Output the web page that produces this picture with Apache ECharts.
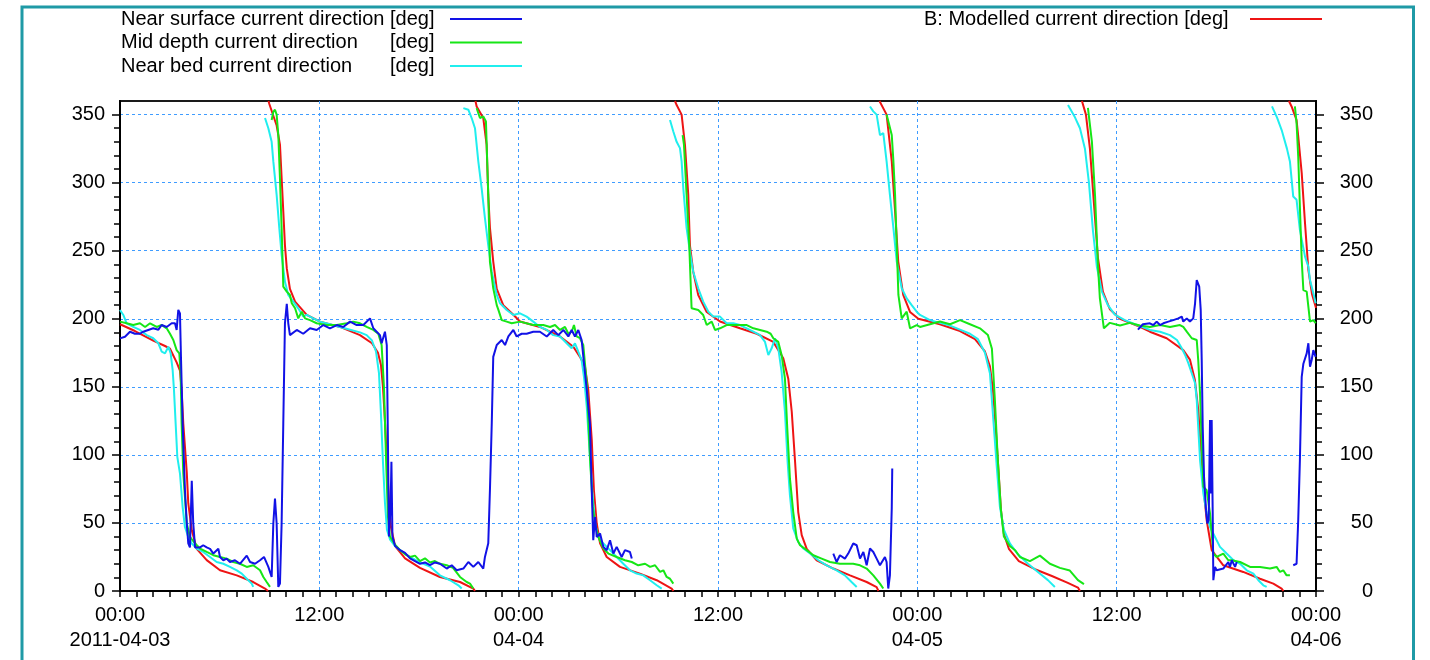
<!DOCTYPE html>
<html>
<head>
<meta charset="utf-8">
<script src="https://cdn.jsdelivr.net/npm/echarts@6/dist/echarts.min.js"></script>
<style>
  html, body { margin: 0; padding: 0; background: #ffffff; }
  #chart { width: 1430px; height: 660px; }
</style>
</head>
<body>
<div id="chart"></div>
<script>
// x values are hours after 2011-04-03 00:00; y values are directions in degrees.
// A null entry ends a line segment (direction wrap-around or missing record).
const xTickLabels = ['00:00\n2011-04-03', '12:00', '00:00\n04-04', '12:00', '00:00\n04-05', '12:00', '00:00\n04-06'];
const yTickLabels = [0, 50, 100, 150, 200, 250, 300, 350];

const seriesNames = [
  'Near surface current direction',
  'Mid depth current direction',
  'Near bed current direction',
  'B: Modelled current direction'
];

const nearSurface = [
  [0, 185.6], [0.30, 186.8], [0.60, 190.5], [0.90, 189], [1.20, 189], [1.40, 190.5], [1.70, 191.8], [2.00, 193],
  [2.31, 192], [2.51, 195.4], [2.81, 194], [3.11, 196.7], [3.31, 196.7], [3.41, 191.8], [3.51, 206.5], [3.61, 204],
  [3.67, 172], [3.77, 123], [3.91, 74], [4.02, 49.6], [4.11, 35], [4.21, 32], [4.32, 81], [4.41, 49.6], [4.52, 32],
  [4.82, 32], [5.01, 33.6], [5.22, 32], [5.42, 31], [5.62, 27.5], [5.92, 31], [6.02, 25], [6.22, 22.6], [6.42, 23.8],
  [6.62, 21.3], [6.92, 22.6], [7.22, 20], [7.63, 26], [7.83, 21.3], [8.13, 20], [8.43, 22.6], [8.67, 25], [8.93, 17.7],
  [9.13, 10.3], [9.23, 49.6], [9.33, 68], [9.43, 49.6], [9.53, 3], [9.63, 5.4], [9.73, 49.6], [9.83, 123], [9.93, 196.7],
  [10.04, 211], [10.13, 196.7], [10.23, 188], [10.64, 191.8], [11.03, 189], [11.44, 193], [11.84, 191.8], [12.24, 195.4],
  [12.64, 193], [13.05, 195.4], [13.44, 194], [13.85, 197.9], [14.25, 195.4], [14.65, 195.4], [15.05, 200.3], [15.25, 193],
  [15.45, 190.5], [15.65, 188], [15.75, 182], [15.95, 190.5], [16.06, 180.7], [16.13, 110], [16.19, 40], [16.29, 62],
  [16.34, 95], [16.40, 40], [16.56, 33], [16.86, 30], [17.16, 28], [17.46, 24], [17.76, 22], [18.06, 20], [18.36, 21],
  [18.66, 19], [18.96, 21], [19.26, 20], [19.67, 16.5], [19.97, 18.9], [20.27, 15.2], [20.67, 16.5], [20.97, 21.3],
  [21.27, 17.7], [21.57, 21.3], [21.87, 16.5], [21.97, 25], [22.17, 35], [22.27, 74], [22.38, 123], [22.47, 172],
  [22.68, 180.7], [22.98, 184.4], [23.18, 180.7], [23.38, 187], [23.68, 191.8], [23.88, 187], [24.18, 189], [24.48, 189],
  [24.88, 190.5], [25.28, 190.5], [25.69, 187], [26.08, 191.8], [26.39, 188], [26.69, 191.8], [26.99, 187], [27.19, 191.8],
  [27.39, 187], [27.59, 191.8], [27.79, 184.4], [27.89, 183], [28.10, 147.6], [28.29, 123], [28.40, 74], [28.49, 37.3],
  [28.60, 54.4], [28.70, 39.7], [28.90, 42.2], [29.10, 32.4], [29.30, 30], [29.50, 37.3], [29.70, 27.5], [29.90, 32.4],
  [30.20, 25], [30.40, 30], [30.70, 28.7], [30.81, 23.8],
  null,
  [42.94, 27.5], [43.14, 21.3], [43.34, 26.3], [43.64, 23.8], [43.84, 27.5], [44.14, 34.9], [44.35, 33.6], [44.55, 23.8],
  [44.75, 28.7], [44.95, 18.9], [45.15, 31.2], [45.35, 28.7], [45.55, 23.8], [45.75, 18.9], [46.05, 25], [46.15, 21.3],
  [46.25, 1.8], [46.35, 11.5], [46.46, 60.6], [46.49, 90],
  null,
  [61.28, 192], [61.58, 196], [62.00, 196.7], [62.21, 195.4], [62.41, 197.9], [62.61, 195.4], [62.81, 196.7], [63.11, 197.9],
  [63.41, 199], [63.71, 200.3], [63.92, 201.6], [64.01, 197.9], [64.22, 200.3], [64.41, 197.9], [64.61, 200.3], [64.72, 211.4],
  [64.82, 228.5], [64.97, 223.6], [65.06, 206.5], [65.12, 169.7], [65.18, 120.6], [65.26, 83.9], [65.38, 59.4], [65.46, 49.6],
  [65.54, 52], [65.62, 125.6], [65.68, 71.6], [65.72, 125.6], [65.78, 59.4], [65.82, 7.9], [65.92, 17.7], [66.02, 15.2],
  [66.42, 16.5], [66.72, 21.3], [66.82, 17.7], [66.93, 22.6], [67.13, 17.7], [67.23, 21.3],
  null,
  [70.63, 18.9], [70.83, 20], [70.93, 52], [71.03, 96], [71.14, 157.4], [71.24, 167], [71.44, 174.6], [71.54, 182],
  [71.64, 164.8], [71.74, 169.7], [71.84, 177], [71.98, 172]
];

const midDepth = [
  [0, 197.9], [0.40, 196.7], [0.80, 195.4], [1.20, 196.7], [1.51, 194], [1.81, 196.7], [2.21, 194], [2.51, 195.4],
  [2.81, 193], [3.01, 189], [3.21, 184.4], [3.41, 177], [3.57, 174.6], [3.65, 160], [3.71, 123], [3.81, 86.3],
  [4.02, 49.6], [4.21, 39.7], [4.52, 34.9], [4.82, 31.2], [5.22, 28.7], [5.62, 26.3], [6.02, 25], [6.42, 23.8],
  [6.82, 21.3], [7.22, 20], [7.63, 17.7], [8.02, 18.9], [8.43, 15.2], [8.63, 10.3], [8.83, 6.6], [9.03, 3],
  null,
  [9.13, 346], [9.23, 352], [9.33, 353.6], [9.43, 350], [9.53, 335], [9.63, 303], [9.73, 266.6], [9.79, 242],
  [9.83, 223.6], [10.04, 220], [10.23, 217.5], [10.34, 211.4], [10.54, 207.7], [10.73, 200.3], [10.94, 205.2],
  [11.14, 200.3], [11.44, 199], [11.84, 196.7], [12.44, 195.4], [13.05, 195.4], [13.65, 196.7], [14.04, 197.9],
  [14.45, 196.7], [14.85, 194], [15.25, 191.8], [15.55, 189], [15.75, 180.7], [15.89, 150], [16.01, 100], [16.13, 55],
  [16.25, 40], [16.56, 34], [16.86, 30], [17.16, 27], [17.46, 25], [17.76, 26], [18.06, 22], [18.36, 24], [18.66, 21],
  [18.96, 22], [19.26, 20], [19.67, 18.9], [20.05, 17], [20.47, 10.3], [20.87, 6.6], [21.07, 5.4], [21.27, 1.8],
  null,
  [21.47, 354.8], [21.67, 347.5], [21.87, 348.7], [22.03, 345], [22.17, 291], [22.27, 242], [22.47, 222.4], [22.68, 210],
  [22.78, 206.5], [22.98, 199], [23.28, 197.9], [23.58, 196.7], [24.08, 197.9], [24.88, 195.4], [25.48, 195.4], [25.89, 194],
  [26.19, 195.4], [26.49, 191.8], [26.79, 194], [26.99, 189], [27.19, 190.5], [27.33, 195.4], [27.49, 187], [27.69, 185.7],
  [27.89, 180.7], [28.10, 152.6], [28.29, 98.6], [28.46, 61.8], [28.60, 49.6], [28.79, 39.7], [29.10, 31.2], [29.40, 27.5],
  [29.90, 25], [30.40, 22.6], [30.81, 21.3], [31.20, 18.9], [31.61, 20], [31.91, 17.7], [32.21, 18.9], [32.51, 14],
  [32.71, 15.2], [32.91, 10.3], [33.11, 9], [33.31, 5.4],
  null,
  [33.87, 335], [33.95, 328], [34.11, 291], [34.27, 254], [34.41, 207.7], [34.81, 206.5], [35.11, 202.8], [35.32, 195.4],
  [35.62, 197.9], [35.82, 191.8], [36.12, 193], [36.52, 195.4], [36.92, 195.4], [37.32, 195.4], [37.73, 195.4], [38.13, 193],
  [38.53, 191.8], [38.93, 190.5], [39.17, 189], [39.33, 185.7], [39.63, 183], [39.83, 173.4], [40.03, 156], [40.17, 119.5],
  [40.33, 82.7], [40.53, 58], [40.74, 38.5], [40.94, 33.6], [41.34, 30], [41.74, 26.3], [42.24, 23.8], [42.74, 21.3],
  [43.34, 20], [44.14, 20], [44.55, 18.9], [44.95, 16.5], [45.35, 11.5], [45.75, 5.4], [45.95, 1.8],
  null,
  [46.15, 350], [46.46, 335], [46.56, 315.6], [46.66, 291], [46.76, 254], [46.86, 217.5], [47.06, 200.3], [47.36, 205.2],
  [47.56, 193], [47.96, 195.4], [48.16, 194], [48.76, 196], [49.36, 198], [49.97, 196], [50.57, 199], [51.17, 196],
  [51.77, 193], [52.25, 188], [52.49, 178], [52.67, 140], [52.85, 95], [53.03, 60], [53.21, 40], [53.57, 33], [53.88, 30],
  [54.18, 25], [54.78, 22], [55.38, 26], [55.98, 20], [56.58, 17], [57.18, 15], [57.67, 8], [58.03, 5],
  null,
  [58.27, 355], [58.51, 330], [58.70, 290], [58.87, 240], [58.99, 215], [59.23, 193], [59.59, 197], [60.20, 195],
  [60.80, 197], [61.40, 195], [62.00, 194], [62.61, 195.4], [63.21, 194], [63.81, 195.4], [64.01, 194], [64.22, 190.5],
  [64.52, 185.7], [64.82, 184.4], [64.91, 169.7], [65.02, 145], [65.12, 108.4], [65.22, 76.5], [65.42, 74], [65.62, 57],
  [65.82, 27.5], [66.02, 25], [66.42, 27.5], [66.72, 22.6], [66.93, 22.6], [67.43, 21.3], [68.03, 17.7], [68.63, 17.7],
  [69.23, 16.5], [69.63, 17.7], [69.83, 14], [70.03, 15.2], [70.23, 11.5], [70.43, 11.5],
  null,
  [70.73, 356], [70.83, 343.8], [70.93, 319], [71.03, 282.5], [71.14, 243], [71.24, 221], [71.44, 220], [71.64, 197.9],
  [71.84, 199], [71.98, 196.7]
];

const nearBed = [
  [0, 206.5], [0.20, 202.8], [0.40, 196.7], [0.80, 194], [1.20, 191.8], [1.61, 188], [2.00, 185.7], [2.31, 182],
  [2.51, 175.8], [2.71, 174.6], [2.91, 179.5], [3.05, 174.6], [3.17, 162.3], [3.25, 147.6], [3.35, 123], [3.45, 98.6],
  [3.61, 86.3], [3.77, 61.8], [3.91, 47], [4.11, 39.7], [4.32, 34.9], [4.62, 31.2], [5.01, 28.7], [5.42, 25], [5.82, 21.3],
  [6.22, 20], [6.62, 17.7], [7.03, 15.2], [7.33, 12.8], [7.63, 9], [7.93, 5.4], [8.02, 3],
  null,
  [8.73, 347.5], [8.93, 340], [9.13, 330], [9.23, 315.6], [9.43, 291], [9.59, 266.6], [9.73, 247], [9.93, 227.3],
  [10.13, 217.5], [10.43, 212.6], [10.73, 207.7], [11.03, 201.6], [11.24, 202.8], [11.64, 200.3], [12.04, 197.9],
  [12.64, 196], [13.24, 194], [13.85, 192], [14.45, 190], [14.85, 188], [15.17, 184], [15.41, 176], [15.59, 160],
  [15.71, 130], [15.83, 95], [15.95, 65], [16.07, 45], [16.25, 38], [16.56, 33], [16.86, 30], [17.46, 25], [18.06, 21],
  [18.66, 18], [19.26, 11.5], [19.87, 7.9], [20.37, 4.2], [20.57, 1.8],
  null,
  [20.67, 354.8], [20.97, 353.6], [21.17, 347.5], [21.37, 340], [21.57, 315.6], [21.77, 296], [21.97, 274], [22.17, 254],
  [22.38, 234.6], [22.68, 217.5], [22.88, 211.4], [23.28, 206.5], [23.68, 202.8], [24.08, 204], [24.48, 201.6],
  [24.88, 197.9], [25.28, 194], [25.69, 191.8], [26.08, 188], [26.49, 187], [26.89, 182], [27.19, 178.3], [27.39, 182],
  [27.59, 175.8], [27.79, 169.7], [27.93, 157.4], [28.10, 135.3], [28.29, 98.6], [28.46, 69], [28.60, 49.6], [28.79, 39.7],
  [29.10, 34.9], [29.50, 30], [29.90, 25], [30.30, 20], [30.70, 15.2], [31.10, 12.8], [31.50, 11.5], [31.91, 7.9],
  [32.31, 4.2], [32.61, 1.8],
  null,
  [33.11, 346], [33.31, 337.6], [33.51, 330], [33.71, 325.4], [33.81, 315.6], [33.91, 296], [34.11, 266.6], [34.31, 249.4],
  [34.51, 234.6], [34.81, 222.4], [35.11, 212.6], [35.42, 205.2], [35.72, 201.6], [36.12, 201.6], [36.52, 196.7],
  [36.92, 196.7], [37.32, 195.4], [37.73, 193], [38.13, 190.5], [38.53, 188], [38.83, 183], [39.03, 173.4], [39.23, 178.3],
  [39.43, 185.7], [39.63, 178.3], [39.83, 161], [40.03, 131.7], [40.19, 95], [40.33, 70.4], [40.53, 46], [40.83, 36],
  [41.14, 31.2], [41.54, 27.5], [42.04, 22.6], [42.54, 18.9], [43.14, 15.2], [43.64, 11.5], [44.04, 6.6], [44.35, 3],
  null,
  [45.15, 356], [45.35, 352.4], [45.55, 350], [45.75, 335], [45.95, 336.4], [46.15, 315.6], [46.35, 291], [46.56, 266.6],
  [46.76, 242], [47.06, 222.4], [47.36, 215], [47.66, 210], [47.96, 205.2], [48.16, 202.8], [48.76, 199], [49.36, 197],
  [49.97, 195], [50.57, 192], [51.17, 189], [51.65, 185], [52.07, 175], [52.37, 160], [52.61, 120], [52.79, 90],
  [52.97, 62], [53.21, 45], [53.57, 35], [54.05, 27], [54.66, 20], [55.26, 14], [55.86, 8], [56.28, 3],
  null,
  [57.07, 357], [57.49, 348], [57.79, 340], [58.09, 325], [58.33, 300], [58.57, 265], [58.81, 238], [59.11, 220],
  [59.47, 210], [59.89, 203], [60.49, 199], [61.10, 196], [62.00, 191.8], [62.61, 190.5], [63.21, 188], [63.63, 184.4],
  [63.92, 178.3], [64.12, 173.4], [64.32, 167.2], [64.52, 160], [64.72, 152.6], [64.82, 140.3], [64.91, 120.6],
  [65.02, 96], [65.22, 71.6], [65.42, 57], [65.62, 47], [65.92, 39.7], [66.22, 32.4], [66.62, 27.5], [67.03, 22.6],
  [67.43, 20], [67.83, 15.2], [68.23, 12.8], [68.53, 7.9], [68.83, 4.2], [69.03, 3],
  null,
  [69.35, 356], [69.65, 348], [69.95, 338], [70.25, 325], [70.43, 315.6], [70.63, 289.8], [70.83, 287.4], [71.03, 265.3],
  [71.34, 245.7], [71.54, 238.3], [71.64, 228.5], [71.84, 218.8], [71.98, 211.4]
];

const modelled = [
  [0, 196], [0.90, 191], [2.00, 184], [2.71, 180], [3.01, 178], [3.41, 168], [3.61, 162], [3.71, 148], [3.81, 123],
  [4.02, 87], [4.11, 64.5], [4.32, 44.6], [4.62, 31], [5.22, 22.7], [6.02, 15.2], [7.03, 11.5], [8.02, 6.6],
  [8.73, 1.8], [8.91, 0],
  null,
  [8.94, 360], [8.99, 357.8], [9.43, 342], [9.63, 328], [9.73, 303.6], [9.83, 279], [9.93, 254], [10.04, 237],
  [10.23, 222], [10.54, 212.6], [11.24, 202.8], [12.04, 197.9], [13.24, 194], [14.45, 188], [15.17, 182], [15.53, 175],
  [15.71, 166], [15.83, 150], [15.95, 125], [16.07, 95], [16.19, 66], [16.31, 47], [16.56, 33], [17.16, 24], [18.06, 17],
  [19.26, 10.3], [20.47, 6.6], [21.27, 1.8], [21.37, 0],
  null,
  [21.40, 360], [21.47, 356], [21.87, 347.5], [22.07, 328], [22.17, 291], [22.27, 267], [22.47, 242], [22.68, 222],
  [23.07, 210], [23.68, 203], [24.08, 198], [25.28, 194], [26.49, 187], [27.29, 179.5], [27.69, 172], [27.99, 165],
  [28.19, 148], [28.40, 111], [28.53, 74], [28.70, 49.6], [28.90, 35], [29.30, 25], [30.10, 17.7], [31.30, 12.8],
  [32.31, 7.9], [33.21, 1.8], [33.32, 0],
  null,
  [33.41, 360], [33.51, 357], [33.81, 350], [34.01, 328], [34.21, 291], [34.31, 254], [34.51, 234.6], [34.81, 217.5],
  [35.32, 205], [36.12, 198], [37.32, 193], [38.33, 189], [39.33, 183], [39.93, 171], [40.23, 156], [40.44, 131.7],
  [40.64, 95], [40.83, 58], [41.04, 41], [41.34, 31], [41.94, 22.6], [42.94, 16.5], [43.95, 11.5], [44.95, 6.6],
  [45.55, 2.9], [45.66, 0],
  null,
  [45.72, 360], [45.75, 359.7], [46.15, 350], [46.46, 315.6], [46.66, 279], [46.85, 242], [47.15, 217.5], [47.56, 205],
  [48.06, 200], [49.36, 196], [50.57, 191], [51.47, 185], [52.07, 176], [52.37, 165], [52.55, 148], [52.73, 118],
  [52.88, 90], [53.03, 60], [53.21, 42], [53.51, 31], [54.11, 22], [55.08, 16], [56.10, 11], [57.06, 6], [57.67, 2.5],
  [57.79, 0],
  null,
  [57.91, 360], [58.15, 350], [58.39, 325], [58.63, 285], [58.87, 245], [59.17, 220], [59.59, 207], [60.20, 200],
  [61.40, 194], [62.00, 190.5], [63.01, 185.7], [64.01, 177], [64.41, 170], [64.71, 155], [64.91, 133], [65.12, 96],
  [65.26, 71.6], [65.42, 52], [65.72, 30], [66.42, 18.9], [67.62, 14], [68.63, 9], [69.43, 5.4], [69.93, 1.8], [70.04, 0],
  null,
  [70.37, 360], [70.53, 356], [70.83, 346], [70.93, 334], [71.14, 307], [71.34, 270], [71.54, 236], [71.76, 218], [72.0, 208]
];

const lineColors = ['#1212e6', '#16e616', '#20eeee', '#ee1414'];
const FONT = 'Liberation Sans, Arial, sans-serif';

// Turn segment separators into gaps the line series will not bridge.
function toSeriesData(points) {
  return points.map(p => (p === null ? ['-', '-'] : p));
}

const yMinorTicks = [];
for (let v = 0; v < 360; v += 10) {
  if (v % 50 !== 0) yMinorTicks.push(v);
}

function yAxisPair(position) {
  const isLeft = position === 'left';
  return [
    {
      type: 'value', min: 0, max: 360, interval: 50, position: position,
      axisLine: { show: true, lineStyle: { color: '#000', width: 2 } },
      axisTick: { show: true, length: 8, customValues: yTickLabels, lineStyle: { color: '#000', width: 1.5 } },
      axisLabel: {
        show: true, customValues: yTickLabels, fontSize: 20, fontFamily: FONT, color: '#000',
        margin: isLeft ? 15 : 57, align: 'right'
      },
      splitLine: isLeft
        ? { show: true, lineStyle: { color: '#3f9cff', type: [3, 3], width: 1 } }
        : { show: false }
    },
    {
      type: 'value', min: 0, max: 360, interval: 10, position: position,
      axisLine: { show: false },
      axisTick: { show: true, length: 6, customValues: yMinorTicks, lineStyle: { color: '#000', width: 1.5 } },
      axisLabel: { show: false },
      splitLine: { show: false }
    }
  ];
}

const chart = echarts.init(document.getElementById('chart'), null, { renderer: 'canvas' });

const lineSeries = (name, data, color) => ({
  name: name,
  type: 'line',
  xAxisIndex: 0,
  yAxisIndex: 0,
  data: toSeriesData(data),
  showSymbol: false,
  symbol: 'none',
  connectNulls: false,
  sampling: null,
  lineStyle: { color: color, width: 2 },
  itemStyle: { color: color },
  emphasis: { disabled: true },
  animation: false
});

const legendText = { fontSize: 20, fontFamily: FONT, color: '#000', align: 'left', lineHeight: 20 };

chart.setOption({
  animation: false,
  backgroundColor: '#ffffff',
  textStyle: { fontFamily: FONT },
  graphic: [{
    type: 'rect', silent: true, z: 100,
    shape: { x: 22, y: 7, width: 1391.5, height: 700 },
    style: { fill: 'none', stroke: '#1f9aa6', lineWidth: 3 }
  }],
  legend: [
    {
      orient: 'vertical', left: 121, top: 9, padding: 0, itemGap: 3.5,
      align: 'right', itemWidth: 72, itemHeight: 2, icon: 'rect',
      selectedMode: false,
      data: seriesNames.slice(0, 3),
      formatter: name => '{a|' + name + ' }{b|[deg]}',
      textStyle: {
        fontSize: 20, fontFamily: FONT, color: '#000',
        rich: {
          a: Object.assign({ width: 269 }, legendText),
          b: Object.assign({ width: 55 }, legendText)
        }
      }
    },
    {
      orient: 'vertical', left: 924, top: 9, padding: 0, itemGap: 0,
      align: 'right', itemWidth: 72, itemHeight: 2, icon: 'rect',
      selectedMode: false,
      data: seriesNames.slice(3),
      formatter: name => '{c|' + name + ' [deg]}',
      textStyle: {
        fontSize: 20, fontFamily: FONT, color: '#000',
        rich: {
          c: Object.assign({ width: 321 }, legendText)
        }
      }
    }
  ],
  grid: {
    left: 120, right: 114, top: 101, bottom: 69,
    show: true, borderColor: '#1a1a1a', borderWidth: 2, backgroundColor: 'transparent'
  },
  xAxis: {
    type: 'value', min: 0, max: 72, interval: 12,
    axisLine: { show: true, lineStyle: { color: '#000', width: 2 } },
    axisTick: { show: true, length: 6, lineStyle: { color: '#000', width: 1.5 } },
    minorTick: { show: true, splitNumber: 12, length: 6, lineStyle: { color: '#000', width: 1.5 } },
    axisLabel: {
      formatter: v => xTickLabels[Math.round(v / 12)] || '',
      fontSize: 20, fontFamily: FONT, color: '#000', lineHeight: 25, margin: 12,
      showMinLabel: true, showMaxLabel: true
    },
    splitLine: { show: true, lineStyle: { color: '#3f9cff', type: [3, 3], width: 1 } }
  },
  yAxis: yAxisPair('left').concat(yAxisPair('right')),
  series: [
    lineSeries(seriesNames[3], modelled, lineColors[3]),
    lineSeries(seriesNames[2], nearBed, lineColors[2]),
    lineSeries(seriesNames[1], midDepth, lineColors[1]),
    lineSeries(seriesNames[0], nearSurface, lineColors[0])
  ]
});
</script>
</body>
</html>
